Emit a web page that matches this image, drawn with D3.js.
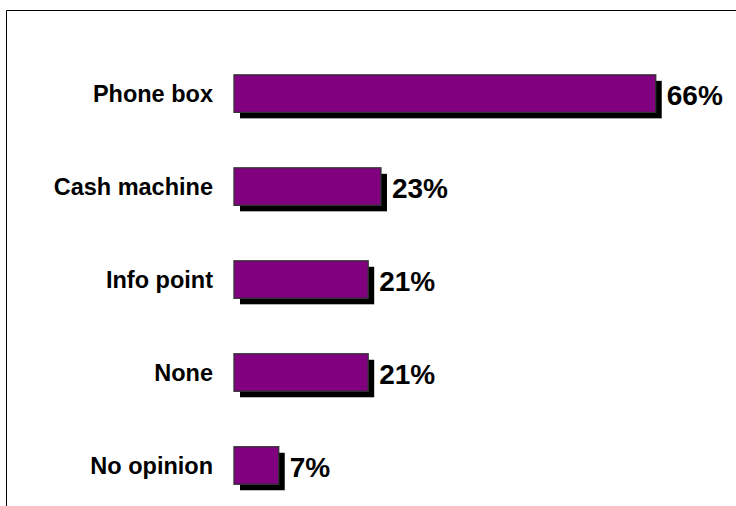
<!DOCTYPE html>
<html>
<head>
<meta charset="utf-8">
<script src="https://cdn.jsdelivr.net/npm/d3@7"></script>
<style>
  html, body { margin: 0; padding: 0; background: #fff; }
  svg { display: block; }
</style>
</head>
<body>
<svg id="chart" width="736" height="506"></svg>
<script>
// Survey answers and their shares (%)
const categories = ["Phone box", "Cash machine", "Info point", "None", "No opinion"];
const values = [66, 23, 21, 21, 7];

const svg = d3.select("#chart");
const W = 736, H = 506;

// Frame: top and left rules only
svg.append("line").attr("x1", 6.5).attr("y1", 10.5).attr("x2", W).attr("y2", 10.5)
  .attr("stroke", "#000").attr("stroke-width", 1);
svg.append("line").attr("x1", 6.5).attr("y1", 10.5).attr("x2", 6.5).attr("y2", H)
  .attr("stroke", "#000").attr("stroke-width", 1);

const x = d3.scaleLinear().domain([0, 100]).range([234, 873]);
const y = d3.scalePoint().domain(categories).range([93.6, 465.5]);
const barH = 37.5;
const shadow = 6;
const font = "Liberation Sans, Arial, sans-serif";

const rows = svg.selectAll("g.row")
  .data(categories.map((c, i) => ({ c, v: values[i] })))
  .join("g").attr("class", "row");

// drop shadow
rows.append("rect")
  .attr("x", x(0) + shadow)
  .attr("y", d => y(d.c) - barH / 2 + shadow)
  .attr("width", d => x(d.v) - x(0))
  .attr("height", barH)
  .attr("fill", "#000");

// bar
rows.append("rect")
  .attr("x", x(0))
  .attr("y", d => y(d.c) - barH / 2)
  .attr("width", d => x(d.v) - x(0))
  .attr("height", barH)
  .attr("fill", "#800080")
  .attr("stroke", "#333")
  .attr("stroke-width", 1.3);

// category labels
rows.append("text")
  .attr("x", 213)
  .attr("y", d => y(d.c) + 8.3)
  .attr("text-anchor", "end")
  .attr("font-family", font)
  .attr("font-weight", "bold")
  .attr("font-size", 23.5)
  .attr("fill", "#000")
  .text(d => d.c);

// value labels
rows.append("text")
  .attr("x", d => x(d.v) + 11)
  .attr("y", d => y(d.c) + 11.5)
  .attr("text-anchor", "start")
  .attr("font-family", font)
  .attr("font-weight", "bold")
  .attr("font-size", 28)
  .attr("fill", "#000")
  .text(d => d.v + "%");
</script>
</body>
</html>
